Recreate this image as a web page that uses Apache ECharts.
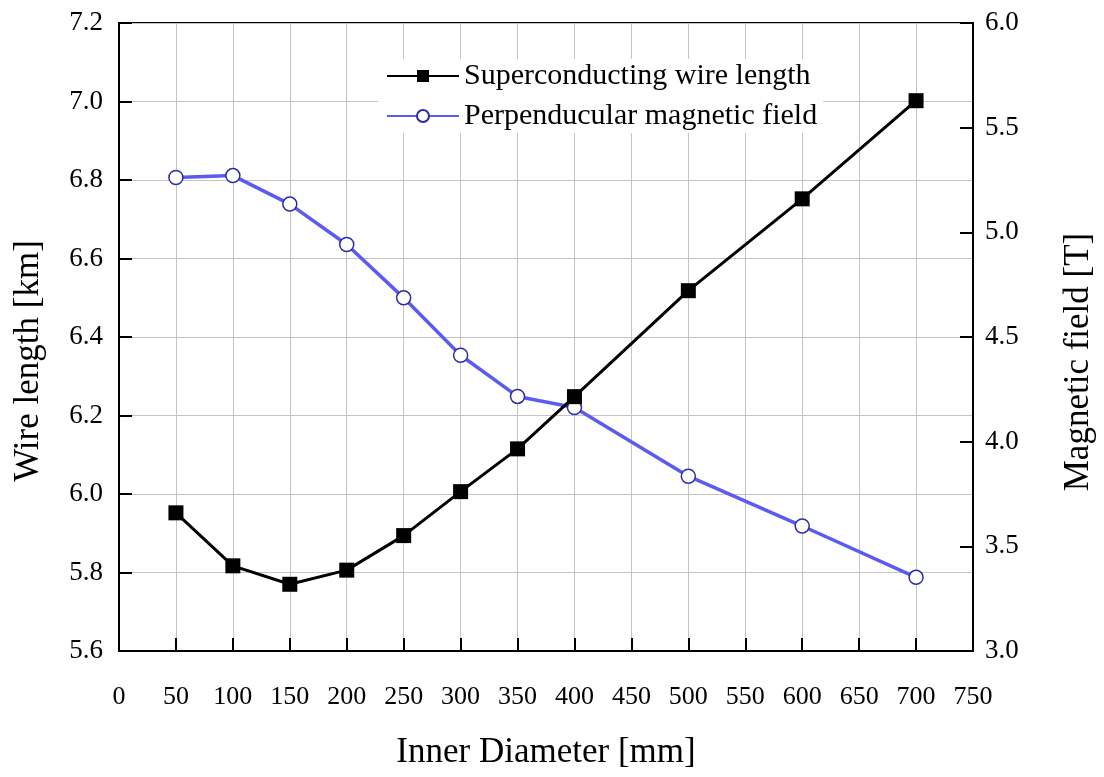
<!DOCTYPE html>
<html>
<head>
<meta charset="utf-8">
<script src="https://cdn.jsdelivr.net/npm/echarts@6/dist/echarts.min.js"></script>
<style>html,body{margin:0;padding:0;background:#fff;}#c{width:1104px;height:777px;}</style>
</head>
<body>
<div id="c"></div>
<script>
var diameters = [50, 100, 150, 200, 250, 300, 350, 400, 500, 600, 700];
var wireLength = [5.952, 5.817, 5.770, 5.806, 5.894, 6.006, 6.115, 6.248, 6.518, 6.752, 7.002];
var magField = [5.262, 5.271, 5.135, 4.942, 4.687, 4.413, 4.216, 4.163, 3.835, 3.597, 3.352];
var legendLabels = ['Superconducting wire length', 'Perpenducular magnetic field'];

var font = '"Liberation Serif", "Times New Roman", serif';
var chart = echarts.init(document.getElementById('c'));
chart.setOption({
  backgroundColor: '#fff',
  animation: false,
  textStyle: {fontFamily: font},
  grid: {left: 119, right: 129, top: 23, bottom: 126, show: true, borderColor: '#000', borderWidth: 2, backgroundColor: 'transparent'},
  legend: {
    orient: 'vertical', left: 378, top: 59, itemWidth: 72, itemHeight: 15, itemGap: 10,
    backgroundColor: '#fff', padding: [2, 6, 2, 8],
    textStyle: {fontFamily: font, fontSize: 30, color: '#000'},
    data: [{name: legendLabels[0]}, {name: legendLabels[1]}]
  },
  xAxis: {
    type: 'value', min: 0, max: 750, interval: 50,
    name: 'Inner Diameter [mm]', nameLocation: 'middle', nameGap: 84,
    nameTextStyle: {fontFamily: font, fontSize: 35, color: '#000'},
    axisLine: {lineStyle: {color: '#000', width: 2}},
    axisTick: {inside: true, length: 13, lineStyle: {color: '#000', width: 2}},
    axisLabel: {fontFamily: font, fontSize: 26, color: '#000', margin: 33},
    splitLine: {show: true, lineStyle: {color: '#c4c4c4', width: 1}}
  },
  yAxis: [{
    type: 'value', min: 5.6, max: 7.2, interval: 0.2, position: 'left',
    name: 'Wire length [km]', nameLocation: 'middle', nameGap: 73,
    nameTextStyle: {fontFamily: font, fontSize: 35, color: '#000', padding: [0, 48, 0, 0]},
    axisLine: {show: true, lineStyle: {color: '#000', width: 2}},
    axisTick: {show: true, inside: true, length: 13, lineStyle: {color: '#000', width: 2}},
    axisLabel: {fontFamily: font, fontSize: 27, color: '#000', margin: 16, formatter: function (v) { return v.toFixed(1); }},
    splitLine: {show: true, lineStyle: {color: '#c4c4c4', width: 1}}
  }, {
    type: 'value', min: 3.0, max: 6.0, interval: 0.5, position: 'right',
    name: 'Magnetic field [T]', nameLocation: 'middle', nameGap: 88, nameRotate: 90,
    nameTextStyle: {fontFamily: font, fontSize: 35, color: '#000', padding: [0, 50, 0, 0]},
    axisLine: {show: true, lineStyle: {color: '#000', width: 2}},
    axisTick: {show: true, inside: true, length: 13, lineStyle: {color: '#000', width: 2}},
    axisLabel: {fontFamily: font, fontSize: 27, color: '#000', margin: 12, formatter: function (v) { return v.toFixed(1); }},
    splitLine: {show: false}
  }],
  series: [{
    name: legendLabels[0], type: 'line', yAxisIndex: 0,
    data: diameters.map(function (d, i) { return [d, wireLength[i]]; }),
    symbol: 'rect', symbolSize: 15,
    itemStyle: {color: '#000'},
    lineStyle: {color: '#000', width: 3},
    z: 3
  }, {
    name: legendLabels[1], type: 'line', yAxisIndex: 1,
    data: diameters.map(function (d, i) { return [d, magField[i]]; }),
    symbol: 'circle', symbolSize: 14, showAllSymbol: true,
    itemStyle: {color: '#fff', borderColor: '#2b2ba8', borderWidth: 1.5},
    lineStyle: {color: '#5b5bf0', width: 3.5},
    z: 2
  }]
});
</script>
</body>
</html>
